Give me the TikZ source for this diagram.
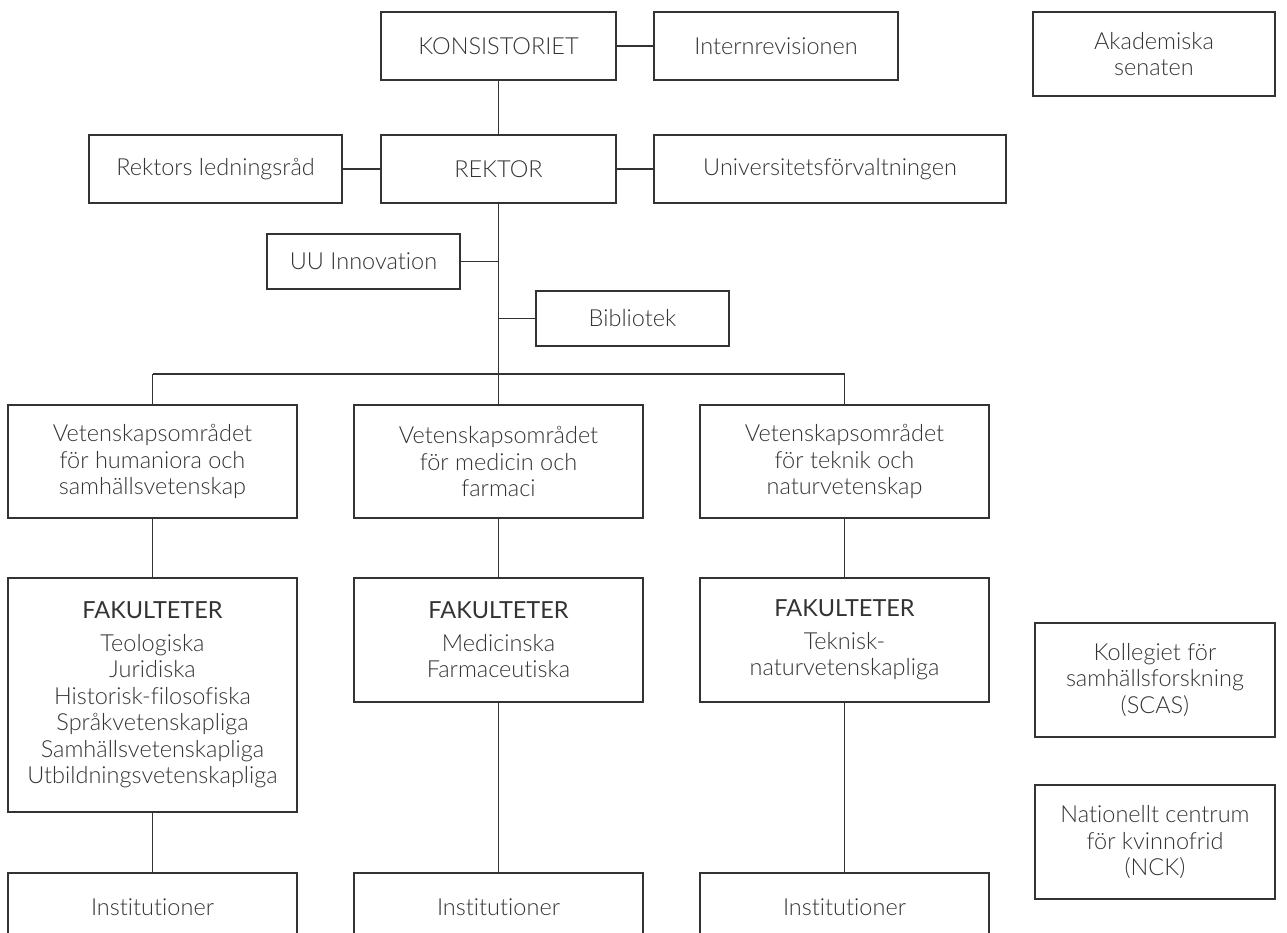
\documentclass[tikz,border=0pt]{standalone}
\usepackage{fontspec}
\setmainfont{Lato}[UprightFont=* Light, BoldFont=* Regular, Ligatures=NoCommon]
\definecolor{ink}{RGB}{51,51,51}
\tikzset{
	org/.style={draw=ink, text=ink, line width=1.25pt, align=center, inner sep=0pt,
		font=\fontsize{23.5}{26.5}\selectfont},
	dim/.style 2 args={minimum width=#1pt, minimum height=#2pt},
	link/.style={draw=ink, line width=1.25pt}
}
\newcommand{\fakhead}{{\bfseries FAKULTETER}\\[6pt]}
\begin{document}
\begin{tikzpicture}[x=1pt,y=-1pt]
				\useasboundingbox (0,0) rectangle (1287,933);
				\clip (0,0) rectangle (1287,933);
				\node[org,dim={235}{68}] (kons) at (498.5,46) {KONSISTORIET};
				\node[org,dim={244}{68}] (intrev) at (776,46) {Internrevisionen};
				\node[org,dim={242}{84}] (senat) at (1154,54) {Akademiska\\senaten};
				\node[org,dim={253}{68}] (ledn) at (215.5,169) {Rektors ledningsråd};
				\node[org,dim={235}{68}] (rektor) at (498.5,169) {REKTOR};
				\node[org,dim={352}{68}] (forv) at (830,169) {Universitetsförvaltningen};
				\node[org,dim={193}{55}] (innov) at (363.5,261.5) {UU Innovation};
				\node[org,dim={193}{55}] (bibl) at (632.5,318.5) {Bibliotek};
				\coordinate (hub) at (498.5,374);
				\node[org,dim={289}{113}] (vet1) at (152.5,461.5) {Vetenskapsområdet\\för humaniora och\\samhällsvetenskap};
				\node[org,dim={289}{113}] (vet2) at (498.5,461.5) {Vetenskapsområdet\\för medicin och\\farmaci};
				\node[org,dim={289}{113}] (vet3) at (844.5,461.5) {Vetenskapsområdet\\för teknik och\\naturvetenskap};
				\node[org,dim={289}{234}] (fak1) at (152.5,695) {\fakhead Teologiska\\Juridiska\\Historisk-filosofiska\\Språkvetenskapliga\\Samhällsvetenskapliga\\Utbildningsvetenskapliga};
				\node[org,dim={289}{124}] (fak2) at (498.5,640) {\fakhead Medicinska\\Farmaceutiska};
				\node[org,dim={289}{124}] (fak3) at (844.5,640) {\fakhead Teknisk-\\naturvetenskapliga};
				\foreach \c/\x in {1/152.5,2/498.5,3/844.5}{
					\node[org,dim={289}{68}] (inst\c) at (\x,907) {Institutioner};
				}
				\node[org,dim={240}{114}] (koll) at (1155,680) {Kollegiet för\\samhällsforskning\\(SCAS)};
				\node[org,dim={240}{114}] (nck) at (1155,842) {Nationellt centrum\\för kvinnofrid\\(NCK)};
				\draw[link] (kons.east)--(intrev.west) (ledn.east)--(rektor.west) (rektor.east)--(forv.west)
					(kons.south)--(rektor.north) (rektor.south)--(hub)
					(innov.east)--(innov.east -| hub) (bibl.west)--(bibl.west -| hub)
					(vet1.north |- hub)--(vet3.north |- hub);
				\foreach \c in {1,2,3}{
					\draw[link] (vet\c.north |- hub)--(vet\c.north) (vet\c.south)--(fak\c.north) (fak\c.south)--(inst\c.north);
				}
			\end{tikzpicture}
\end{document}
